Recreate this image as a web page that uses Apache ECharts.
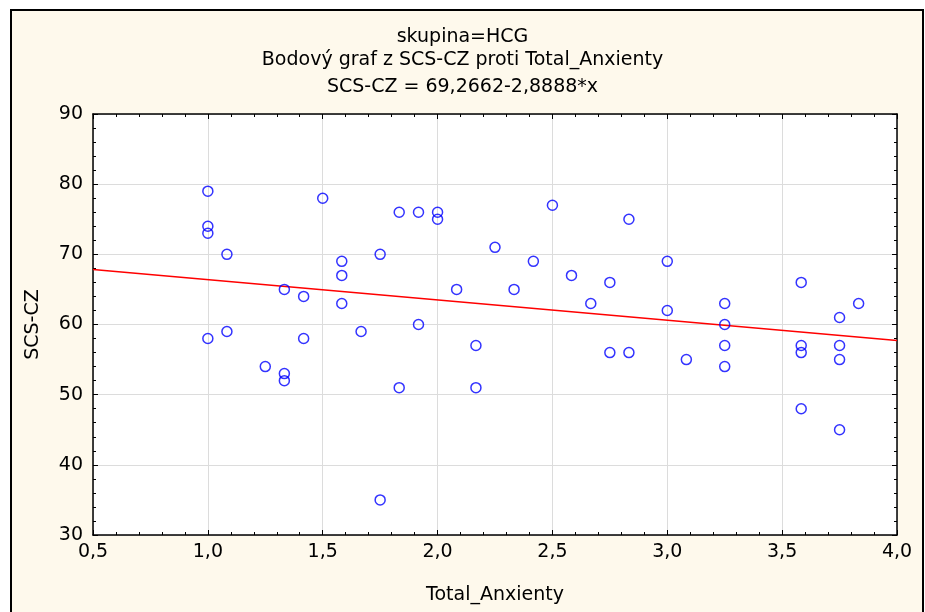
<!DOCTYPE html>
<html>
<head>
<meta charset="utf-8">
<script src="https://cdn.jsdelivr.net/npm/echarts@6/dist/echarts.min.js"></script>
<style>
  html, body { margin: 0; padding: 0; background: #fff; }
  #chart { width: 925px; height: 612px; }
</style>
</head>
<body>
<div id="chart"></div>
<script>
// Total_Anxienty (x) and SCS-CZ (y), one entry per respondent
const anxiety = [
  1.0, 1.0, 1.0, 1.0, 1.083, 1.083, 1.25, 1.333, 1.333, 1.333,
  1.417, 1.417, 1.5, 1.583, 1.583, 1.583, 1.667, 1.75, 1.75, 1.833,
  1.833, 1.917, 1.917, 2.0, 2.0, 2.083, 2.167, 2.167, 2.25, 2.333,
  2.417, 2.5, 2.583, 2.667, 2.75, 2.75, 2.833, 2.833, 3.0, 3.0,
  3.083, 3.25, 3.25, 3.25, 3.25, 3.583, 3.583, 3.583, 3.583, 3.75,
  3.75, 3.75, 3.75, 3.833
];
const scs = [
  79, 74, 73, 58, 70, 59, 54, 65, 53, 52,
  64, 58, 78, 69, 67, 63, 59, 70, 35, 76,
  51, 76, 60, 76, 75, 65, 57, 51, 71, 65,
  69, 77, 67, 63, 66, 56, 75, 56, 69, 62,
  55, 63, 60, 57, 54, 66, 57, 56, 48, 61,
  57, 55, 45, 63
];
// fitted line from the title: SCS-CZ = 69,2662-2,8888*x
const intercept = 69.2662;
const slope = -2.8888;
const xRange = [0.5, 4.0];
const yRange = [30, 90];

const titles = ['skupina=HCG', 'Bodový graf z SCS-CZ proti Total_Anxienty', 'SCS-CZ = 69,2662-2,8888*x'];

const chart = echarts.init(document.getElementById('chart'));

const font = 'DejaVu Sans, sans-serif';
const comma = v => v.toFixed(1).replace('.', ',');

const baseAxis = {
  type: 'value',
  axisLine: { show: true, onZero: false, lineStyle: { color: '#000', width: 1.5 } },
  axisTick: { show: true, inside: true, length: 5, lineStyle: { color: '#000' } },
  minorTick: { show: true, splitNumber: 5, length: 3, lineStyle: { color: '#000' } },
  splitLine: { show: false }
};

const points = anxiety.map((x, i) => [x, scs[i]]);
const fit = xRange.map(x => [x, intercept + slope * x]);

// plot box in pixels (matches grid below)
const box = { left: 93, right: 28, top: 114, bottom: 77 };

chart.setOption({
  backgroundColor: '#fff',
  animation: false,
  title: titles.map((t, i) => ({
    text: t,
    left: 'center',
    top: [28, 51, 78][i],
    padding: 0,
    textStyle: { fontFamily: font, fontSize: 19, fontWeight: 'normal', color: '#000' }
  })),
  graphic: [
    {
      type: 'rect',
      z: -10,
      shape: { x: 11, y: 10, width: 912, height: 620 },
      style: { fill: '#fef9ec', stroke: '#000', lineWidth: 2 }
    },
    {
      type: 'rect',
      z: -9,
      shape: { x: box.left, y: box.top, width: 925 - box.left - box.right, height: 612 - box.top - box.bottom },
      style: { fill: '#fff' }
    }
  ],
  grid: Object.assign({ show: false }, box),
  xAxis: [
    Object.assign({}, baseAxis, {
      min: xRange[0], max: xRange[1], interval: 0.5, position: 'bottom',
      name: 'Total_Anxienty', nameLocation: 'middle', nameGap: 51,
      nameTextStyle: { fontFamily: font, fontSize: 19, color: '#000' },
      axisLabel: { fontFamily: font, fontSize: 19, color: '#000', margin: 8, formatter: comma },
      splitLine: { show: true, lineStyle: { color: '#dcdcdc', width: 1 } }
    }),
    Object.assign({}, baseAxis, {
      min: xRange[0], max: xRange[1], interval: 0.5, position: 'top',
      axisLabel: { show: false }
    })
  ],
  yAxis: [
    Object.assign({}, baseAxis, {
      min: yRange[0], max: yRange[1], interval: 10, position: 'left',
      name: 'SCS-CZ', nameLocation: 'middle', nameGap: 50, nameRotate: 90,
      nameTextStyle: { fontFamily: font, fontSize: 19, color: '#000' },
      axisLabel: { fontFamily: font, fontSize: 19, color: '#000', margin: 10 },
      splitLine: { show: true, lineStyle: { color: '#dcdcdc', width: 1 } }
    }),
    Object.assign({}, baseAxis, {
      min: yRange[0], max: yRange[1], interval: 10, position: 'right',
      axisLabel: { show: false }
    })
  ],
  series: [
    {
      type: 'line',
      data: fit,
      showSymbol: false,
      lineStyle: { color: '#ff0000', width: 1.5 },
      z: 2
    },
    {
      type: 'scatter',
      data: points,
      symbol: 'circle',
      symbolSize: 10,
      itemStyle: { color: 'rgba(0,0,0,0)', borderColor: '#0000ff', borderWidth: 1.5 },
      z: 3
    }
  ]
});
</script>
</body>
</html>
